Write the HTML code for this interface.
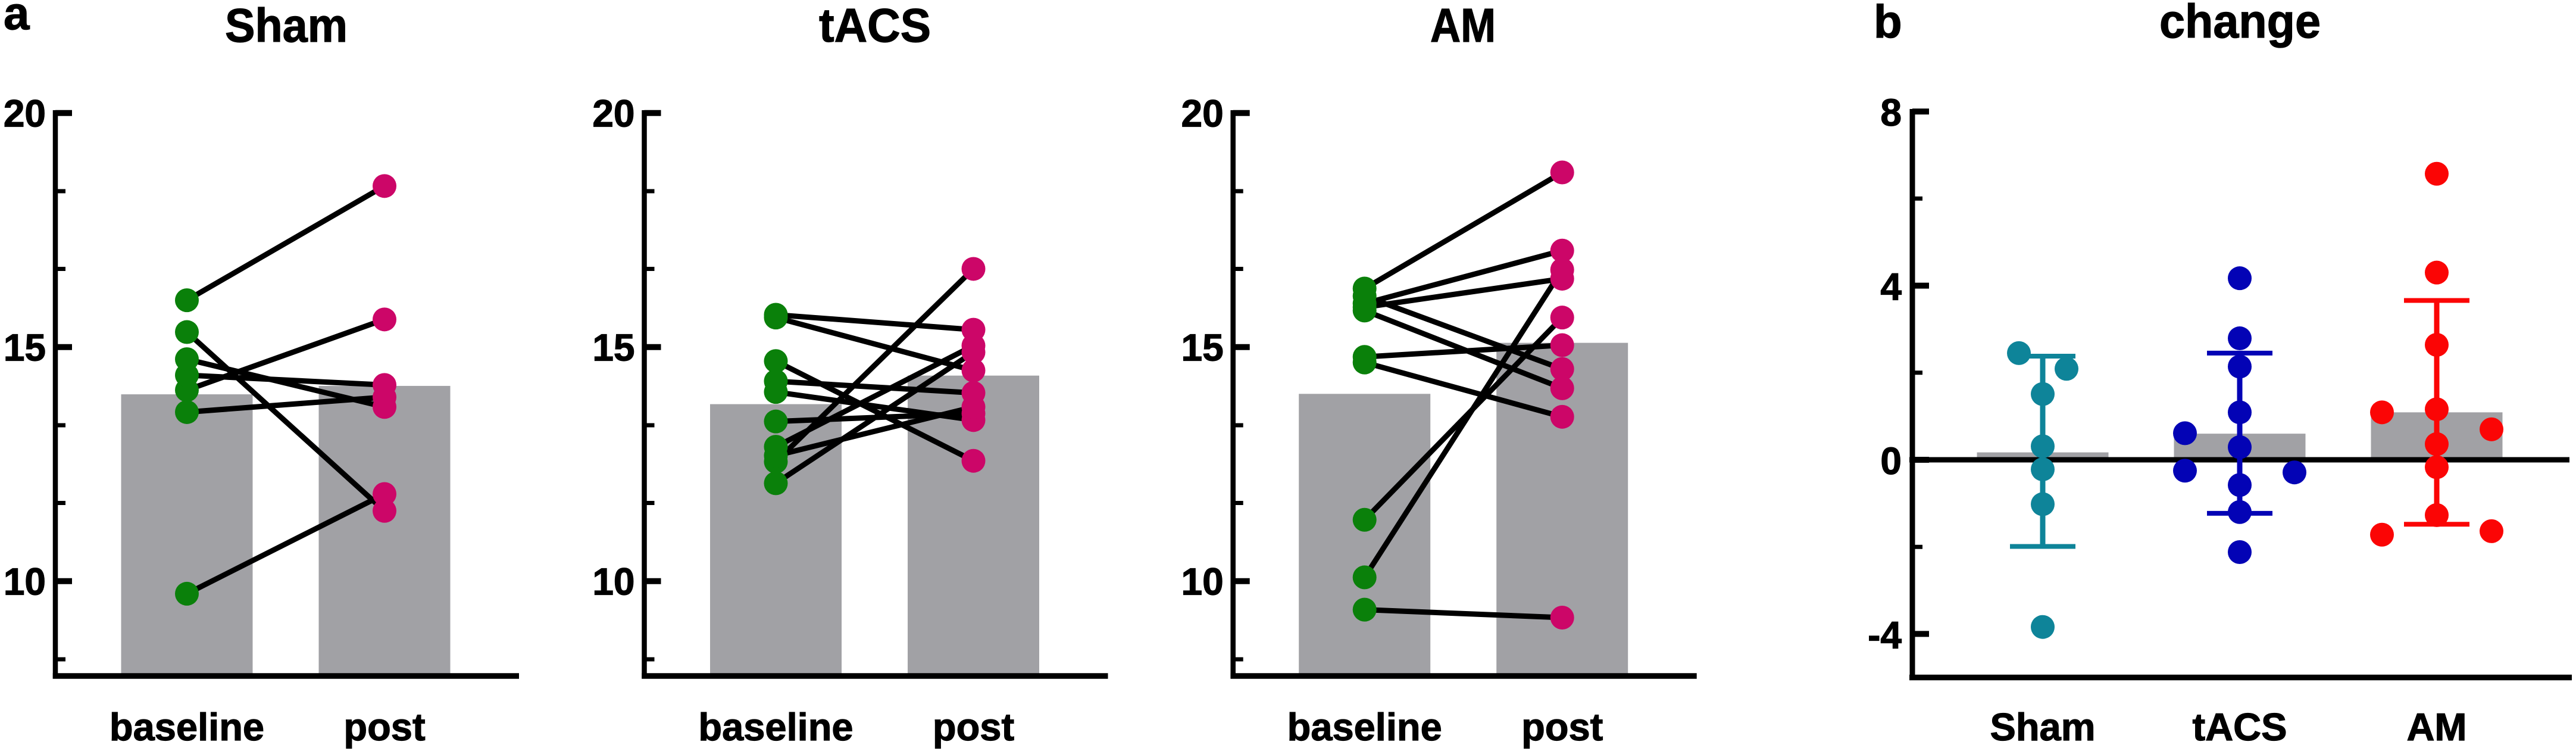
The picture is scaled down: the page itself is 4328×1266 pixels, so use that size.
<!DOCTYPE html>
<html lang="en">
<head>
<meta charset="utf-8">
<title>Sham, tACS and AM baseline versus post, with change</title>
<style>
html,body{margin:0;padding:0;background:#fff;}
svg{display:block;}
text{font-family:"Liberation Sans",Arial,sans-serif;font-weight:700;fill:#000;stroke:#000;stroke-width:1.2px;}
</style>
</head>
<body>
<svg id="chart" xmlns="http://www.w3.org/2000/svg" width="4328" height="1266" viewBox="0 0 4328 1266"></svg>
<script>
// Panel a data
const pairedCategories = ['baseline', 'post'];
const pairedTickLabels = [10, 15, 20];
const pairedMinorTicks = [18.33, 16.67, 13.33, 11.67, 8.33];

const shamBars = [13.99, 14.17];
const shamBaseline = [16.0, 14.08, 14.40, 14.74, 13.61, 15.32, 9.73];
const shamPost = [18.44, 15.59, 14.19, 13.72, 13.93, 11.5, 11.86];

const tacsBars = [13.78, 14.39];
const tacsBaseline = [15.69, 15.63, 14.70, 14.27, 14.04, 13.41, 12.87, 12.55, 12.68, 12.09];
const tacsPost = [15.37, 14.5, 12.57, 14.02, 13.44, 13.58, 15.03, 16.67, 13.72, 14.89];

const amBars = [14.0, 15.09];
const amBaseline = [16.25, 15.93, 15.85, 16.09, 15.78, 14.79, 14.67, 11.31, 10.08, 9.39];
const amPost = [18.73, 17.06, 16.46, 14.53, 14.12, 15.04, 13.51, 15.63, 16.65, 9.22];

// Panel b data
const changeCategories = ['Sham', 'tACS', 'AM'];
const changeTickLabels = [8, 4, 0, -4];
const changeMinorTicks = [6, 2, -2];
const changeMeans = [0.17, 0.6, 1.09];
const changeUpper = [2.38, 2.45, 3.66];
const changeLower = [-1.99, -1.23, -1.48];
const shamChange = [2.45, 2.09, 1.51, 0.31, -0.22, -1.02, -3.84];
const shamSwarm = [-1, 1, 0, 0, 0, 0, 0];
const tacsChange = [4.17, 2.79, 2.14, 1.09, 0.61, 0.29, -0.25, -0.29, -0.58, -1.2, -2.12];
const tacsSwarm = [0, 0, 0, 0, -2.3, 0, -2.3, 2.3, 0, 0, 0];
const amChange = [6.57, 4.3, 2.64, 1.16, 1.09, 0.7, 0.36, -0.17, -1.27, -1.72, -1.64];
const amSwarm = [0, 0, 0, 0, -2.3, 2.3, 0, 0, 0, -2.3, 2.3];

const svg = document.getElementById('chart');
const NS = 'http://www.w3.org/2000/svg';
const BAR = '#a1a1a5', GREEN = '#0a800a', MAGENTA = '#cc0668';
const TEAL = '#0e8499', BLUE = '#0303b5', RED = '#fb0505';

function make(tag, attrs, parent) {
  const el = document.createElementNS(NS, tag);
  for (const k in attrs) el.setAttribute(k, attrs[k]);
  parent.appendChild(el);
  return el;
}
function group(parent, name) {
  const g = make('g', {}, parent);
  
  
  return g;
}
function label(parent, name, str, x, y, size, anchor, fitWidth) {
  const t = make('text', {x: x, y: y, 'font-size': size, 'text-anchor': anchor}, parent);
  if (fitWidth) {
    t.setAttribute('textLength', fitWidth);
    t.setAttribute('lengthAdjust', 'spacingAndGlyphs');
  }
  t.textContent = str;
  
  
  return t;
}
function line(parent, name, x1, y1, x2, y2, color, width) {
  const l = make('line', {x1: x1, y1: y1, x2: x2, y2: y2, stroke: color, 'stroke-width': width}, parent);
  
  
  return l;
}
function dot(parent, name, x, y, color) {
  const c = make('circle', {cx: x, cy: y, r: 20, fill: color}, parent);
  
  
  return c;
}
function bar(parent, name, x, width, top, bottom) {
  const r = make('rect', {x: x, y: top, width: width, height: bottom - top, fill: BAR}, parent);
  
  
  return r;
}

function drawPaired(key, title, titleX, titleWidth, ox, bars, baseline, post) {
  const g = group(svg, key + '-panel');
  const yAxis = v => 189.7 + (20 - v) * 78.6;
  const xCat = i => ox + 314 + 332 * i;
  const axisX = ox + 93;
  const axisBottom = 1135;
  label(g, key + '-title', title, titleX, 70, 80, 'start', titleWidth);
  bars.forEach((v, i) => {
    bar(g, key + '-bar-' + pairedCategories[i], xCat(i) - 110.5, 221, yAxis(v), axisBottom);
  });
  baseline.forEach((v, i) => {
    line(g, key + '-pair-line', xCat(0), yAxis(v), xCat(1), yAxis(post[i]), '#000', 9);
  });
  baseline.forEach(v => {
    dot(g, key + '-baseline-point', xCat(0), yAxis(v), GREEN);
  });
  post.forEach(v => {
    dot(g, key + '-post-point', xCat(1), yAxis(v), MAGENTA);
  });
  line(g, key + '-y-axis', axisX, 185, axisX, axisBottom + 4.5, '#000', 8.5);
  line(g, key + '-x-axis', axisX - 4.25, axisBottom, ox + 872, axisBottom, '#000', 9.5);
  pairedTickLabels.forEach(v => {
    line(g, key + '-major-tick', axisX, yAxis(v), axisX + 28, yAxis(v), '#000', 10);
    label(g, key + '-tick-label', String(v), axisX - 16, yAxis(v) + 23, 64, 'end');
  });
  pairedMinorTicks.forEach(v => {
    line(g, key + '-minor-tick', axisX, yAxis(v), axisX + 17, yAxis(v), '#000', 7);
  });
  pairedCategories.forEach((c, i) => {
    label(g, key + '-category-' + c, c, xCat(i), 1243, 65, 'middle');
  });
}

drawPaired('sham', 'Sham', 378, 206, 0, shamBars, shamBaseline, shamPost);
drawPaired('tacs', 'tACS', 1376, 188, 989.5, tacsBars, tacsBaseline, tacsPost);
drawPaired('am', 'AM', 2403, 110, 1978.7, amBars, amBaseline, amPost);
label(svg, 'panel-a-letter', 'a', 6, 49, 78, 'start');

function drawChange() {
  const g = group(svg, 'change-panel');
  const yAxis = v => 772 + (0 - v) * 73.1;
  const xCat = i => 3432 + 331 * i;
  const axisX = 3213;
  const axisBottom = yAxis(-5);
  const colors = [TEAL, BLUE, RED];
  const values = [shamChange, tacsChange, amChange];
  const swarms = [shamSwarm, tacsSwarm, amSwarm];
  label(g, 'change-title', 'change', 3628, 63, 80, 'start', 271);
  label(g, 'panel-b-letter', 'b', 3148, 63, 78, 'start');
  changeMeans.forEach((v, i) => {
    bar(g, 'change-bar-' + changeCategories[i], xCat(i) - 110.5, 221, yAxis(v), yAxis(0));
  });
  line(g, 'zero-line', axisX - 5, yAxis(0), 4317, yAxis(0), '#000', 9);
  changeCategories.forEach((c, i) => {
    line(g, 'error-stem-' + c, xCat(i), yAxis(changeUpper[i]), xCat(i), yAxis(changeLower[i]), colors[i], 9);
    line(g, 'error-cap-upper-' + c, xCat(i) - 55, yAxis(changeUpper[i]), xCat(i) + 55, yAxis(changeUpper[i]), colors[i], 8);
    line(g, 'error-cap-lower-' + c, xCat(i) - 55, yAxis(changeLower[i]), xCat(i) + 55, yAxis(changeLower[i]), colors[i], 8);
    values[i].forEach((v, j) => {
      dot(g, 'change-point-' + c, xCat(i) + swarms[i][j] * 40, yAxis(v), colors[i]);
    });
  });
  line(g, 'change-y-axis', axisX, 183, axisX, axisBottom + 4.5, '#000', 9);
  line(g, 'change-x-axis', axisX - 5, axisBottom, 4321, axisBottom, '#000', 9.5);
  changeTickLabels.forEach(v => {
    line(g, 'change-major-tick', axisX, yAxis(v), axisX + 28, yAxis(v), '#000', 10);
    label(g, 'change-tick-label', String(v), axisX - 18, yAxis(v) + 24, 64, 'end');
  });
  changeMinorTicks.forEach(v => {
    line(g, 'change-minor-tick', axisX, yAxis(v), axisX + 17, yAxis(v), '#000', 7);
  });
  changeCategories.forEach((c, i) => {
    label(g, 'change-category-' + c, c, xCat(i), 1243, 65, 'middle');
  });
}
drawChange();
</script>
</body>
</html>
